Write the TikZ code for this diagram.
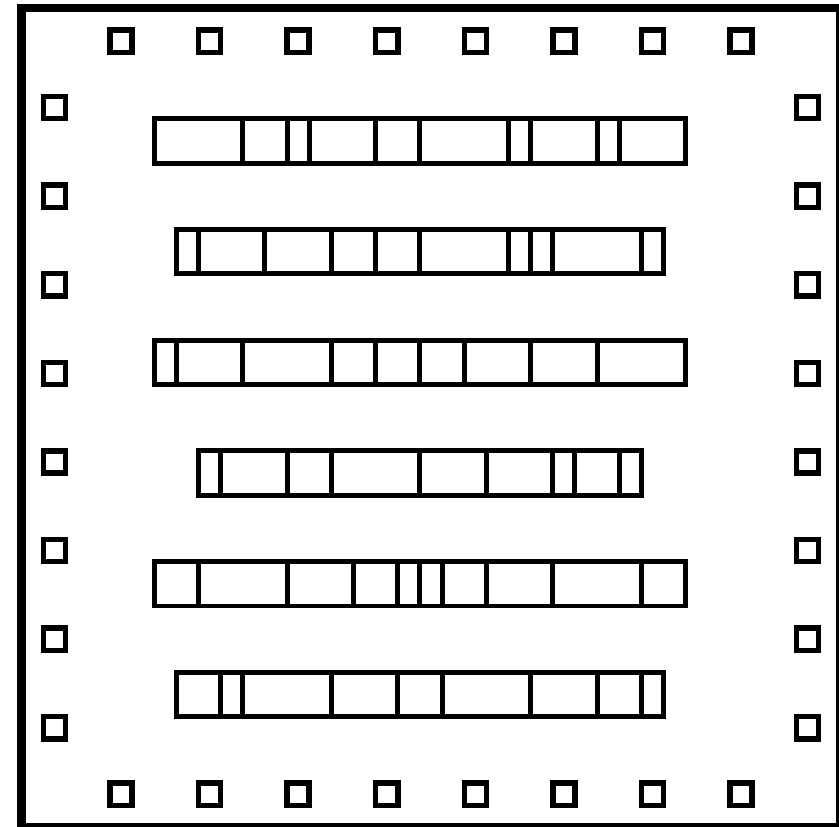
\documentclass[tikz,border=0pt]{standalone}
\usepackage{tikz}
\tikzset{
  ringline/.style={line width=5.5pt},
  padline/.style={line width=3.5pt},
  cellline/.style={line width=3.2pt}
}
% One pad of the ring, centred at (#1,#2).
\newcommand{\padbox}[2]{%
  \draw[padline] (#1-.5,#2-.5) rectangle (#1+.5,#2+.5);
}
% One row of cells: centre height, left end, right end, cut positions.
\newcommand{\cellbar}[4]{%
  \draw[cellline] (#2,#1-1) rectangle (#3,#1+1);
  \foreach \cutx in {#4}{%
    \draw[cellline] (\cutx,#1-1) -- (\cutx,#1+1);
  }%
}

\begin{document}
\begin{tikzpicture}[x=.5cm,y=.5cm]
  \useasboundingbox (-18.96,-18.47) rectangle (18.92,18.86);

  % Outer frame; its right and bottom sides run off the page edge.
  \draw[ringline] (-18,-18.5) rectangle (19,18.5);

  % Pad ring: eight pads on each side.
  \foreach \padx in {-13.5,-9.5,...,14.5}{%
    \padbox{\padx}{17}
    \padbox{\padx}{-17}
  }
  \foreach \pady in {14,10,...,-14}{%
    \padbox{-16.5}{\pady}
    \padbox{17.5}{\pady}
  }

  % Cell rows, counted in cut positions from the left end of the widest row.
  \begin{scope}[shift={(-12,0)}]
    \cellbar{12.5}{0}{24}{4,6,7,10,12,16,17,20,21}
    \cellbar{7.5}{1}{23}{2,5,8,10,12,16,17,18,22}
    \cellbar{2.5}{0}{24}{1,4,8,10,12,14,17,20}
    \cellbar{-2.5}{2}{22}{3,6,8,12,15,18,19,21}
    \cellbar{-7.5}{0}{24}{2,6,9,11,12,13,15,18,22}
    \cellbar{-12.5}{1}{23}{3,4,8,11,13,17,20,22}
  \end{scope}
\end{tikzpicture}
\end{document}
